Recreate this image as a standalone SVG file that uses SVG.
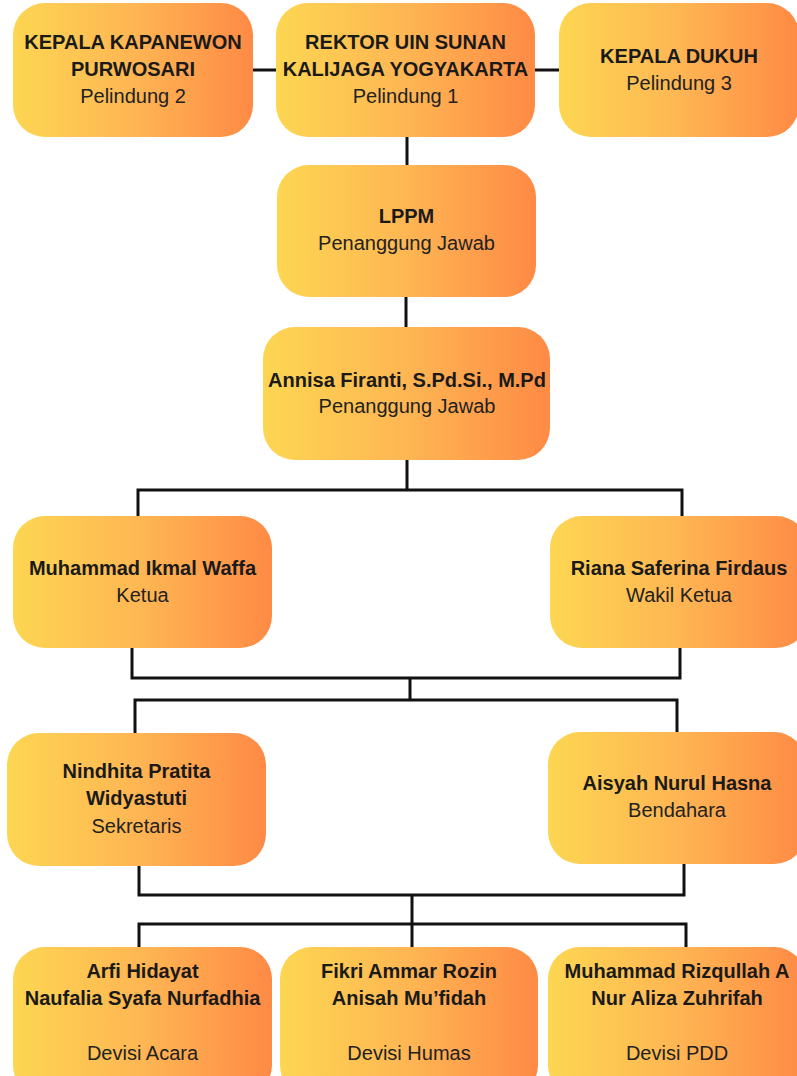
<svg xmlns="http://www.w3.org/2000/svg" width="797" height="1076" viewBox="0 0 797 1076">
<defs>
<linearGradient id="g" x1="0" y1="0" x2="1" y2="0">
<stop offset="0" stop-color="#FDD652"/>
<stop offset="0.5" stop-color="#FEB653"/>
<stop offset="1" stop-color="#FE8A45"/>
</linearGradient>
<style>
.box{fill:url(#g);}
.b{font-family:"Liberation Sans",Arial,sans-serif;font-weight:bold;font-size:20px;fill:#1a1a1a;text-anchor:middle;}
.r{font-family:"Liberation Sans",Arial,sans-serif;font-size:20px;fill:#222;text-anchor:middle;}
.c{fill:none;stroke:#111;stroke-width:3;}
</style>
</defs>
<rect width="797" height="1076" fill="#fff"/>
<g id="connectors">
<path class="c" d="M253 70H276M535 70H559"/>
<path class="c" d="M407 137V165"/>
<path class="c" d="M406 297V327"/>
<path class="c" d="M407 460V490M138 516V490H682V516"/>
<path class="c" d="M132 648V678H680V648M410 678V700M135 733V700H677V732"/>
<path class="c" d="M139 866V895H684V864M412 895V947M139 947V924H686V947"/>
</g>
<g id="kapanewon">
<rect class="box" x="13" y="3" width="240" height="134" rx="32"/>
<text class="b" x="133" y="49">KEPALA KAPANEWON</text>
<text class="b" x="133" y="76">PURWOSARI</text>
<text class="r" x="133" y="103">Pelindung 2</text>
</g>
<g id="rektor">
<rect class="box" x="276" y="3" width="259" height="134" rx="32"/>
<text class="b" x="405.5" y="49">REKTOR UIN SUNAN</text>
<text class="b" x="405.5" y="76">KALIJAGA YOGYAKARTA</text>
<text class="r" x="405.5" y="103">Pelindung 1</text>
</g>
<g id="dukuh">
<rect class="box" x="559" y="3" width="240" height="134" rx="32"/>
<text class="b" x="679" y="63">KEPALA DUKUH</text>
<text class="r" x="679" y="90">Pelindung 3</text>
</g>
<g id="lppm">
<rect class="box" x="277" y="165" width="259" height="132" rx="32"/>
<text class="b" x="406.5" y="223">LPPM</text>
<text class="r" x="406.5" y="250">Penanggung Jawab</text>
</g>
<g id="annisa">
<rect class="box" x="263" y="327" width="287" height="133" rx="32"/>
<text class="b" x="407" y="387">Annisa Firanti, S.Pd.Si., M.Pd</text>
<text class="r" x="407" y="413">Penanggung Jawab</text>
</g>
<g id="ketua">
<rect class="box" x="13" y="516" width="259" height="132" rx="32"/>
<text class="b" x="142.5" y="575">Muhammad Ikmal Waffa</text>
<text class="r" x="142.5" y="602">Ketua</text>
</g>
<g id="wakil">
<rect class="box" x="550" y="516" width="258" height="132" rx="32"/>
<text class="b" x="679" y="575">Riana Saferina Firdaus</text>
<text class="r" x="679" y="602">Wakil Ketua</text>
</g>
<g id="sekretaris">
<rect class="box" x="7" y="733" width="259" height="133" rx="32"/>
<text class="b" x="136.5" y="778">Nindhita Pratita</text>
<text class="b" x="136.5" y="805">Widyastuti</text>
<text class="r" x="136.5" y="833">Sekretaris</text>
</g>
<g id="bendahara">
<rect class="box" x="548" y="732" width="258" height="132" rx="32"/>
<text class="b" x="677" y="790">Aisyah Nurul Hasna</text>
<text class="r" x="677" y="817">Bendahara</text>
</g>
<g id="acara">
<rect class="box" x="13" y="947" width="259" height="150" rx="32"/>
<text class="b" x="142.5" y="978">Arfi Hidayat</text>
<text class="b" x="142.5" y="1005">Naufalia Syafa Nurfadhia</text>
<text class="r" x="142.5" y="1060">Devisi Acara</text>
</g>
<g id="humas">
<rect class="box" x="280" y="947" width="258" height="150" rx="32"/>
<text class="b" x="409" y="978">Fikri Ammar Rozin</text>
<text class="b" x="409" y="1005">Anisah Mu’fidah</text>
<text class="r" x="409" y="1060">Devisi Humas</text>
</g>
<g id="pdd">
<rect class="box" x="548" y="947" width="258" height="150" rx="32"/>
<text class="b" x="677" y="978">Muhammad Rizqullah A</text>
<text class="b" x="677" y="1005">Nur Aliza Zuhrifah</text>
<text class="r" x="677" y="1060">Devisi PDD</text>
</g>
</svg>
